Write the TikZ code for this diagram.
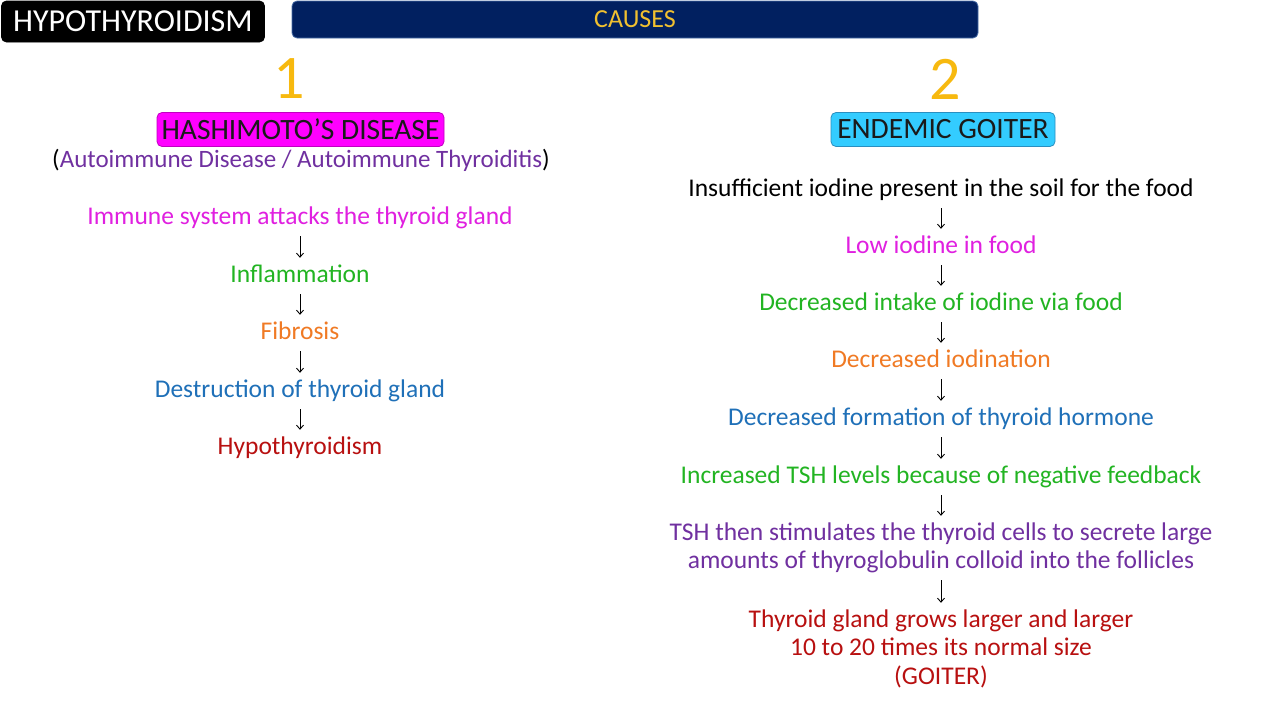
\documentclass[tikz,border=0pt]{standalone}
\usepackage{fontspec}
\setmainfont{Carlito}
\usetikzlibrary{arrows.meta}
\definecolor{navy}{HTML}{012060}
\definecolor{navyedge}{HTML}{4A6FA8}
\definecolor{gold}{HTML}{F0C030}
\definecolor{numyellow}{HTML}{F7B90F}
\definecolor{boxmag}{HTML}{FF00FF}
\definecolor{boxmagedge}{HTML}{C000C0}
\definecolor{boxcyan}{HTML}{33CCFF}
\definecolor{boxcyanedge}{HTML}{2A8FC0}
\definecolor{tmag}{HTML}{E020E0}
\definecolor{tgreen}{HTML}{22B422}
\definecolor{torange}{HTML}{F07A24}
\definecolor{tblue}{HTML}{1F70B8}
\definecolor{tred}{HTML}{B81010}
\definecolor{tpurple}{HTML}{7030A0}
\definecolor{tdark}{HTML}{1A1A1A}
\tikzset{
  txt/.style={font=\fontsize{25.5}{30}\selectfont, text height=15pt, text depth=5pt, inner sep=0pt, anchor=base},
  flow/.style={draw=black, line width=0.9pt, -{Straight Barb[length=4pt,width=7pt]}, shorten <=7pt, shorten >=9pt},
  headbox/.style={rounded corners=5pt, inner sep=0pt, line width=0.8pt},
  bignum/.style={font=\fontsize{62}{70}\selectfont, text=numyellow, inner sep=0pt},
}
\begin{document}
\begin{tikzpicture}[x=1pt,y=-1pt]
\useasboundingbox (0,0) rectangle (1280,720);
\fill[white] (0,0) rectangle (1280,720);
% header
\node[headbox, fill=black, draw=black, minimum width=263pt, minimum height=41pt,
      font=\fontsize{32}{36}\selectfont, text=white] (title) at (133,21.5) {HYPOTHYROIDISM};
\node[headbox, fill=navy, draw=navyedge, minimum width=686pt, minimum height=37pt,
      font=\fontsize{26}{30}\selectfont, text=gold] (causes) at (635,19.5) {CAUSES};
% numbers
\node[bignum] (one) at (289,79) {1};
\node[bignum] (two) at (945,79) {2};
% disease boxes
\node[headbox, fill=boxmag, draw=boxmagedge, minimum width=287pt, minimum height=34pt,
      font=\fontsize{29.5}{32}\selectfont, text=tdark] (hashi) at (300.5,129.5) {HASHIMOTO'S DISEASE};
\node[headbox, fill=boxcyan, draw=boxcyanedge, minimum width=224pt, minimum height=34pt,
      font=\fontsize{29.5}{32}\selectfont, text=tdark] (endemic) at (943,129.5) {ENDEMIC GOITER};
\node[txt, font=\fontsize{25}{30}\selectfont] (auto) at (301,167) {(\textcolor{tpurple}{Autoimmune Disease / Autoimmune Thyroiditis})};
% left flow
\node[txt, text=tmag] (l1) at (300,224) {Immune system attacks the thyroid gland};
\node[txt, text=tgreen] (l2) at (300,282) {Inflammation};
\node[txt, text=torange] (l3) at (300,339) {Fibrosis};
\node[txt, text=tblue] (l4) at (300,397) {Destruction of thyroid gland};
\node[txt, text=tred] (l5) at (300,454) {Hypothyroidism};
\draw[flow] (l1.south) -- (l2.north);
\draw[flow] (l2.south) -- (l3.north);
\draw[flow] (l3.south) -- (l4.north);
\draw[flow] (l4.south) -- (l5.north);
% right flow
\node[txt, text=black] (r1) at (941,196) {Insufficient iodine present in the soil for the food};
\node[txt, text=tmag] (r2) at (941,253) {Low iodine in food};
\node[txt, text=tgreen] (r3) at (941,310) {Decreased intake of iodine via food};
\node[txt, text=torange] (r4) at (941,367) {Decreased iodination};
\node[txt, text=tblue] (r5) at (941,425) {Decreased formation of thyroid hormone};
\node[txt, text=tgreen] (r6) at (941,483) {Increased TSH levels because of negative feedback};
\node[txt, text=tpurple] (r7a) at (941,540) {TSH then stimulates the thyroid cells to secrete large};
\node[txt, text=tpurple] (r7b) at (941,568) {amounts of thyroglobulin colloid into the follicles};
\node[txt, text=tred] (r8a) at (941,627) {Thyroid gland grows larger and larger};
\node[txt, text=tred] (r8b) at (941,655) {10 to 20 times its normal size};
\node[txt, text=tred] (r8c) at (941,684) {(GOITER)};
\draw[flow] (r1.south) -- (r2.north);
\draw[flow] (r2.south) -- (r3.north);
\draw[flow] (r3.south) -- (r4.north);
\draw[flow] (r4.south) -- (r5.north);
\draw[flow] (r5.south) -- (r6.north);
\draw[flow] (r6.south) -- (r7a.north);
\draw[flow] (r7b.south) -- (r8a.north);
\end{tikzpicture}
\end{document}
